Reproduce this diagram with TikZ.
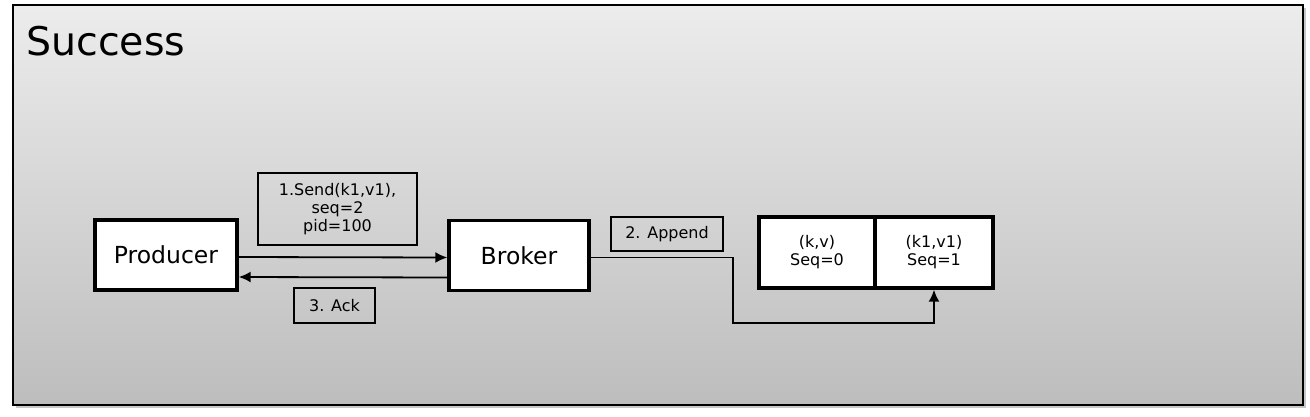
\documentclass[tikz,border=0pt]{standalone}
\usepackage{fontspec}
\setmainfont{DejaVu Sans}
\usetikzlibrary{arrows.meta,calc}

\definecolor{bgtop}{RGB}{236,236,236}
\definecolor{bgbot}{RGB}{189,189,189}

\tikzset{
    actor/.style={draw,fill=white,line width=3.4pt,minimum width=#1,minimum height=70pt,
        font=\fontsize{23.5}{27}\selectfont},
    logcell/.style={draw,fill=white,line width=3.4pt,minimum width=#1,minimum height=71pt,
        align=center,font=\fontsize{16}{18}\selectfont},
    msg/.style={draw,line width=1.6pt,minimum width=#1,align=center,
        font=\fontsize{16}{18}\selectfont},
    flow/.style={line width=1.8pt,-{Latex[length=12pt,width=11pt]}}
}

\begin{document}
\begin{tikzpicture}[x=1pt,y=-1pt]
        \useasboundingbox (0,0) rectangle (1310,416);
        % frame with shade
        \fill[black!22] (16,8) rectangle (1306,408);
        \shade[top color=bgtop,bottom color=bgbot] (13,5) rectangle (1303,405);
        \draw[line width=2.2pt] (13,5) rectangle (1303,405);
        \node[anchor=base west,inner sep=0pt,font=\fontsize{39.5}{45}\selectfont](title)at(26,55){Success};

        \node[actor=142pt](prod)at(166,255){Producer};
        \node[actor=140pt](broker)at(519,255.5){Broker};
        \node[logcell=116pt](log0)at(817,252.5){(k,v)\\Seq=0};
        \node[logcell=118pt](log1)at(934,252.5){(k1,v1)\\Seq=1};

        \node[msg=159pt,minimum height=72pt](send)at(337.5,209){1.Send(k1,v1),\\seq=2\\pid=100};
        \node[msg=81pt,minimum height=35pt](ack)at(334.5,305.5){3. Ack};
        \node[msg=112pt,minimum height=34pt](append)at(667,234){2. Append};

        \draw[flow] ([yshift=-2pt]prod.east) -- ([yshift=-2pt]broker.west);
        \draw[flow] ([yshift=-22pt]broker.west) -- ([yshift=-22pt]prod.east);
        \coordinate (turn) at (733,323);
        \draw[flow] ([yshift=-2pt]broker.east) -| (turn) -| (log1.south);
    \end{tikzpicture}
\end{document}
